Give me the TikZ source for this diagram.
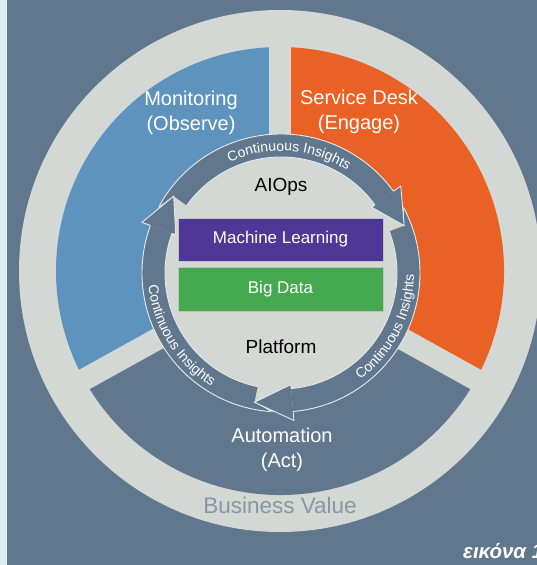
\documentclass[tikz,border=0pt]{standalone}
\usepackage{fontspec}
\setmainfont{Liberation Sans}
\usetikzlibrary{decorations.text}
\definecolor{bgslate}{HTML}{61778D}
\definecolor{ringgrey}{HTML}{D3D8D5}
\definecolor{segblue}{HTML}{5E93BE}
\definecolor{segorange}{HTML}{E96124}
\definecolor{mlpurple}{HTML}{4F3797}
\definecolor{bdgreen}{HTML}{45A94F}
\definecolor{bvgrey}{HTML}{8797A3}
\definecolor{stripblue}{HTML}{DDEEF6}
\definecolor{outlinec}{HTML}{E4EAEA}
\newcommand\cifont{\fontsize{14}{15}\selectfont}
% body of one circular arrow: #1 tip angle of previous head, #2 outer crossing angle, #3 back angle
\newcommand\ciarc[3]{%
  \fill[bgslate] (#1:116pt) -- (#1:132pt) -- (#2:139pt)
     arc[start angle=#2, end angle=#3, radius=139pt] -- (#3:116pt)
     arc[start angle=#3, end angle=#1, radius=116pt] -- cycle;
  \draw[rim] (#2:139pt) arc[start angle=#2, end angle=#3, radius=139pt];
  \draw[rim] (#1:116pt) arc[start angle=#1, end angle=#3, radius=116pt];
}
% head: #1 back angle, #2 tip angle
\newcommand\cihead[2]{%
  \fill[bgslate] (#1:148pt) -- (#2:132pt) -- (#1:112pt) -- cycle;
  \draw[rim, line join=miter] (#1:139pt) -- (#1:148pt) -- (#2:132pt) -- (#1:112pt) -- (#1:116pt);
}
\begin{document}
\begin{tikzpicture}[x=1pt,y=1pt,
  lbl/.style={text=white, align=center, font=\fontsize{20}{25.5}\selectfont},
  innerlbl/.style={text=black, font=\fontsize{19}{22}\selectfont},
  layerbox/.style={minimum width=205pt, minimum height=43pt, text=white,
     font=\fontsize{17}{20}\selectfont, draw=ringgrey!75!gray, line width=0.6pt, inner sep=0pt},
  rim/.style={draw=outlinec, line width=0.9pt},
  citext/.style={decorate, decoration={text along path, text align=center,
     text color=white, text={|\cifont|Continuous Insights}}}
]
\clip (0,0) rectangle (537,565);
\fill[bgslate] (0,0) rectangle (537,565);
\fill[stripblue] (0,0) rectangle (7,565);
\begin{scope}[shift={(280,294)}]
  \fill[ringgrey] (0,0) circle (261pt);
  \fill[segblue] (0,0) -- (90:224pt) arc[start angle=90, end angle=209, radius=224pt] -- cycle;
  \fill[segorange] (0,0) -- (-29:224pt) arc[start angle=-29, end angle=90, radius=224pt] -- cycle;
  \fill[bgslate] (0,0) -- (209:224pt) arc[start angle=209, end angle=331, radius=224pt] -- cycle;
  \foreach \a in {90,209,331} \draw[ringgrey, line width=22pt] (0,0) -- (\a:232pt);
\end{scope}
\begin{scope}[shift={(281,292)}]
  \fill[ringgrey] (0,0) circle (139pt);
  \ciarc{144.4}{151.2}{36}
  \ciarc{21}{27.6}{-85}
  \ciarc{-101.6}{-94.3}{-200}
  \cihead{36}{21}
  \cihead{-85}{-101.6}
  \cihead{160}{144.4}
  \path[citext] (130:122pt) arc[start angle=130, end angle=42, radius=122pt];
  \path[citext] (170:133pt) arc[start angle=170, end angle=254, radius=133pt];
  \path[citext] (291:133pt) arc[start angle=291, end angle=375, radius=133pt];
\end{scope}
\node[lbl] (mon) at (191,452) {Monitoring\\(Observe)};
\node[lbl] (sd) at (359,453) {Service Desk\\(Engage)};
\node[lbl] (auto) at (282,115) {Automation\\(Act)};
\node[innerlbl] (aiops) at (281,378) {AIOps};
\node[layerbox, fill=mlpurple] (ml) at (280.5,325.5) {Machine Learning};
\node[layerbox, fill=bdgreen, minimum height=44pt] (bd) at (280.5,276) {Big Data};
\node[innerlbl] (plat) at (281,218) {Platform};
\node[text=bvgrey, font=\fontsize{22.5}{26}\selectfont] (bv) at (280,60) {Business Value};
\node[anchor=base west, inner sep=0pt, text=white, font=\fontsize{20.5}{24}\selectfont\bfseries\itshape] (fig) at (463,6) {εικόνα 1};
\end{tikzpicture}
\end{document}
